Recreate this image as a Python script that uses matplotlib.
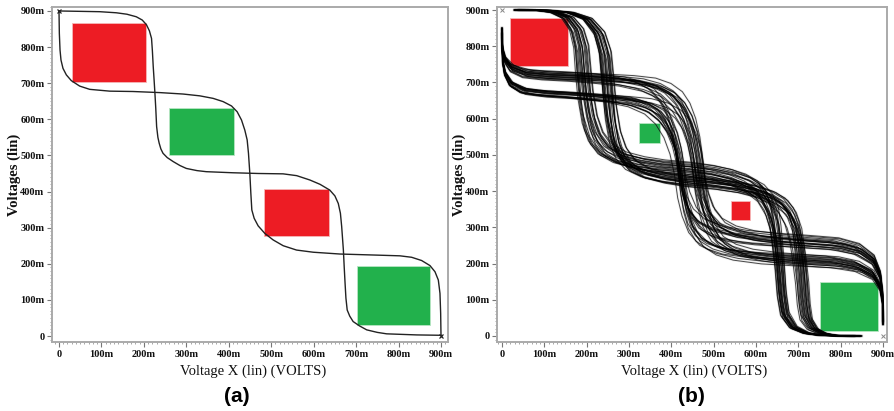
import numpy as np
import matplotlib
matplotlib.use("Agg")
import matplotlib.pyplot as plt
from matplotlib.patches import Rectangle
from matplotlib.ticker import MultipleLocator

# ---------------- data ----------------
tick_vals = [0, 100, 200, 300, 400, 500, 600, 700, 800, 900]
tick_labels = ["0", "100m", "200m", "300m", "400m", "500m", "600m", "700m", "800m", "900m"]

# panel (a): nominal butterfly curves (mV)
a1_x = [0, 0.8, 2.4, 4.7, 9.4, 17.3, 29.1, 48.7, 72.3, 119.5, 174.5, 237.4, 292.4, 331.7, 363.1,
        386.7, 406.4, 419.7, 430.0, 437.8, 443.3, 446.4, 449.6, 452.0, 454.3, 459.8, 469.2, 485.0,
        504.6, 528.2, 559.6, 598.9, 661.8, 748.3, 803.3, 830.8, 854.4, 874.0, 885.8, 893.7, 897.6,
        899.2, 900]
a1_y = [900, 838, 792, 764, 741, 723, 707, 692, 683, 678, 677, 674, 670, 665, 658,
        649, 637, 621, 598, 570, 543, 506, 450, 395, 349, 326, 305, 284,
        266, 250, 238, 232, 227, 224, 222, 218, 209, 195, 178, 155, 118,
        63, 2]
a2_x = [0, 96, 135, 160, 182, 196, 206, 213, 218, 220, 222, 224, 226, 228, 230, 233, 236, 240,
        245, 255, 269, 285, 300, 325, 347, 410, 470, 528, 560, 591, 615, 638, 650, 658, 663, 666,
        670, 672, 674, 676, 679, 685, 693, 708, 725, 750, 772, 843, 900]
a2_y = [900, 898, 895, 891, 884, 875, 862, 845, 824, 790, 746, 710, 672, 630, 580, 550, 534, 518,
        506, 494, 483, 472, 464, 458, 455, 452, 450, 449, 444, 432, 420, 404, 388, 367, 340, 303,
        238, 190, 146, 105, 72, 55, 40, 28, 17, 10, 6, 3, 2]

# panel (a) margin boxes: (x0, y0, x1, y1)
a_red = [(31, 702, 204, 866), (483, 277, 637, 408)]
a_green = [(258, 502, 413, 632), (703, 30, 874, 195)]

# panel (b): Monte Carlo typical curve shape (first inverter)
b_x = [0, 0.5, 2, 8, 24, 59, 114, 193, 271, 320, 360, 390, 410, 425, 436, 444, 450, 458, 470, 490,
       520, 560, 625, 703, 782, 837, 876, 893, 899, 900]
b_y = [845, 812, 782, 755, 731, 715, 709, 705, 699, 693, 680, 660, 632, 595, 550, 495, 430, 380, 335,
       300, 278, 264, 254, 248, 242, 228, 200, 160, 110, 40]

# per-sample levels read from the spread of the bundles
f1_hi = [722, 716, 660, 705, 655, 712, 719, 650, 703, 662, 725, 698, 657, 711, 668, 701, 652, 720,
         665, 709, 659, 700, 664, 714, 648, 708, 653, 706, 661, 717, 656, 702, 666, 713, 651, 663]
f1_mid = [420, 462, 435, 478, 424, 455, 418, 470, 433, 483, 417, 458, 429, 466, 425, 474, 419, 480,
          427, 452, 436, 460, 422, 468, 431, 476, 415, 457, 426, 464, 432, 471, 421, 479, 428, 461]
f1_lo = [270, 210, 248, 198, 280, 205, 266, 215, 274, 226, 260, 192, 253, 202, 245, 218, 272, 208,
         222, 255, 195, 262, 212, 249, 224, 277, 200, 258, 217, 268, 206, 251, 228, 263, 213, 256]
f1_w = [1.0, 1.3, 0.9, 1.2, 1.4, 1.0, 1.1, 0.9, 1.3, 1.0, 1.2, 1.4, 0.9, 1.1, 1.3, 1.0, 1.2, 0.9,
        1.1, 1.3, 1.0, 1.4, 0.9, 1.2, 1.0, 1.1, 1.3, 0.9, 1.2, 1.0, 1.4, 1.1, 0.9, 1.2, 1.0, 1.3]

f2_hi = [640, 705, 648, 690, 655, 712, 643, 698, 660, 718, 646, 694, 652, 708, 638, 701, 657, 715,
         702, 650, 696, 658, 710, 641, 688, 653, 720, 645, 699, 661, 706, 649, 693, 656, 713, 644]
f2_mid = [455, 420, 468, 432, 480, 414, 462, 438, 472, 425, 486, 417, 458, 435, 476, 428, 451, 440,
          418, 464, 430, 474, 422, 483, 436, 459, 412, 470, 427, 452, 439, 478, 424, 466, 433, 449]
f2_lo = [175, 240, 190, 258, 205, 248, 182, 265, 198, 236, 212, 252, 186, 262, 200, 244, 178, 267,
         255, 188, 246, 195, 260, 208, 238, 180, 250, 202, 264, 192, 242, 210, 256, 185, 238, 196]
f2_w = [1.2, 1.0, 1.4, 0.9, 1.1, 1.3, 1.0, 1.2, 0.9, 1.4, 1.1, 1.0, 1.3, 0.9, 1.2, 1.0, 1.4, 1.1,
        0.9, 1.3, 1.0, 1.2, 1.1, 0.9, 1.4, 1.0, 1.2, 1.3, 0.9, 1.1, 1.0, 1.2, 1.4, 0.9, 1.1, 1.3]

# panel (b) margin boxes
b_red = [(20, 745, 156, 877), (540, 319, 586, 374)]
b_green = [(324, 534, 373, 587), (751, 15, 887, 150)]

RED = "#ED1C24"
GREEN = "#22B14C"

# ---------------- figure ----------------
W, H = 895, 411
fig = plt.figure(figsize=(W / 100, H / 100), dpi=100)
fig.patch.set_facecolor("white")

serif = ["Liberation Serif", "DejaVu Serif"]


def px_axes(l, r, t, b):
    return fig.add_axes([l / W, (H - b) / H, (r - l) / W, (b - t) / H])


def style(ax, xlim, ylim):
    ax.set_xlim(*xlim)
    ax.set_ylim(*ylim)
    ax.set_xticks(tick_vals)
    ax.set_xticklabels(tick_labels, fontfamily=serif, fontweight="bold", fontsize=7.5)
    ax.set_yticks(tick_vals)
    ax.set_yticklabels(tick_labels, fontfamily=serif, fontweight="bold", fontsize=7.5)
    ax.xaxis.set_minor_locator(MultipleLocator(10))
    ax.yaxis.set_minor_locator(MultipleLocator(10))
    ax.tick_params(which="major", direction="out", length=3.5, width=0.8, color="#777777", pad=2,
                   labelcolor="#111111")
    ax.tick_params(which="minor", direction="out", length=1.6, width=0.6, color="#999999")
    for s in ax.spines.values():
        s.set_color("#aaaaaa")
        s.set_linewidth(1.4)


def boxes(ax, lst, color):
    for (x0, y0, x1, y1) in lst:
        ax.add_patch(Rectangle((x0, y0), x1 - x0, y1 - y0, facecolor=color,
                               edgecolor="#f6b8b8" if color == RED else "#b8e6c4", lw=0.6, zorder=1))


# ---- panel (a)
axa = px_axes(52, 448, 7, 342)
style(axa, (-16.5, 916.5), (-16.6, 911))
boxes(axa, a_red, RED)
boxes(axa, a_green, GREEN)
axa.plot(a1_x, a1_y, color="#222222", lw=1.0, zorder=3)
axa.plot(a2_x, a2_y, color="#222222", lw=1.0, zorder=3)
axa.plot([0, 900], [900, 0], ls="none", marker="x", ms=3.5, mew=0.9, color="#222222", zorder=4)

# ---- panel (b)
axb = px_axes(497, 887, 7, 342)
style(axb, (-11.8, 909.4), (-16.6, 908.3))
boxes(axb, b_red, RED)
boxes(axb, b_green, GREEN)

bx = np.array(b_x, float)
by = np.array(b_y, float)


def warp(hi, mid, lo, w):
    xx = np.interp(bx, [0, 300, 450, 600, 900], [0, mid - 150 * w, mid, mid + 150 * w, 900])
    yy = np.interp(by, [0, 250, 700, 900], [0, lo, hi, 900])
    return xx, yy


for hi, mid, lo, w in zip(f1_hi, f1_mid, f1_lo, f1_w):
    xx, yy = warp(hi, mid, lo, w)
    axb.plot(xx, yy, color="#888888", lw=1.8, alpha=0.13, zorder=2)
    axb.plot(xx, yy, color="black", lw=0.7, alpha=0.7, zorder=3)
for hi, mid, lo, w in zip(f2_hi, f2_mid, f2_lo, f2_w):
    xx, yy = warp(hi, mid, lo, w)
    axb.plot(yy, xx, color="#888888", lw=1.8, alpha=0.13, zorder=2)
    axb.plot(yy, xx, color="black", lw=0.7, alpha=0.7, zorder=3)
axb.plot([0, 900], [900, 0], ls="none", marker="x", ms=3, mew=0.7, color="#888888", zorder=4)

# ---- labels
def ftext(x, y, s, **kw):
    fig.text(x / W, 1 - y / H, s, ha="center", va="center", **kw)


ftext(253, 371, "Voltage X (lin) (VOLTS)", fontfamily=serif, fontsize=10.5, color="#111111")
ftext(694, 371, "Voltage X (lin) (VOLTS)", fontfamily=serif, fontsize=10.5, color="#111111")
ftext(14, 175, "Voltages (lin)", fontfamily=serif, fontweight="bold", fontsize=10.5, rotation=90,
      color="#111111")
ftext(459, 175, "Voltages (lin)", fontfamily=serif, fontweight="bold", fontsize=10.5, rotation=90,
      color="#111111")
ftext(237, 396, "(a)", fontfamily=["Liberation Sans", "DejaVu Sans"], fontweight="bold", fontsize=15)
ftext(691, 396, "(b)", fontfamily=["Liberation Sans", "DejaVu Sans"], fontweight="bold", fontsize=15)

fig.savefig("out.png", dpi=100)
